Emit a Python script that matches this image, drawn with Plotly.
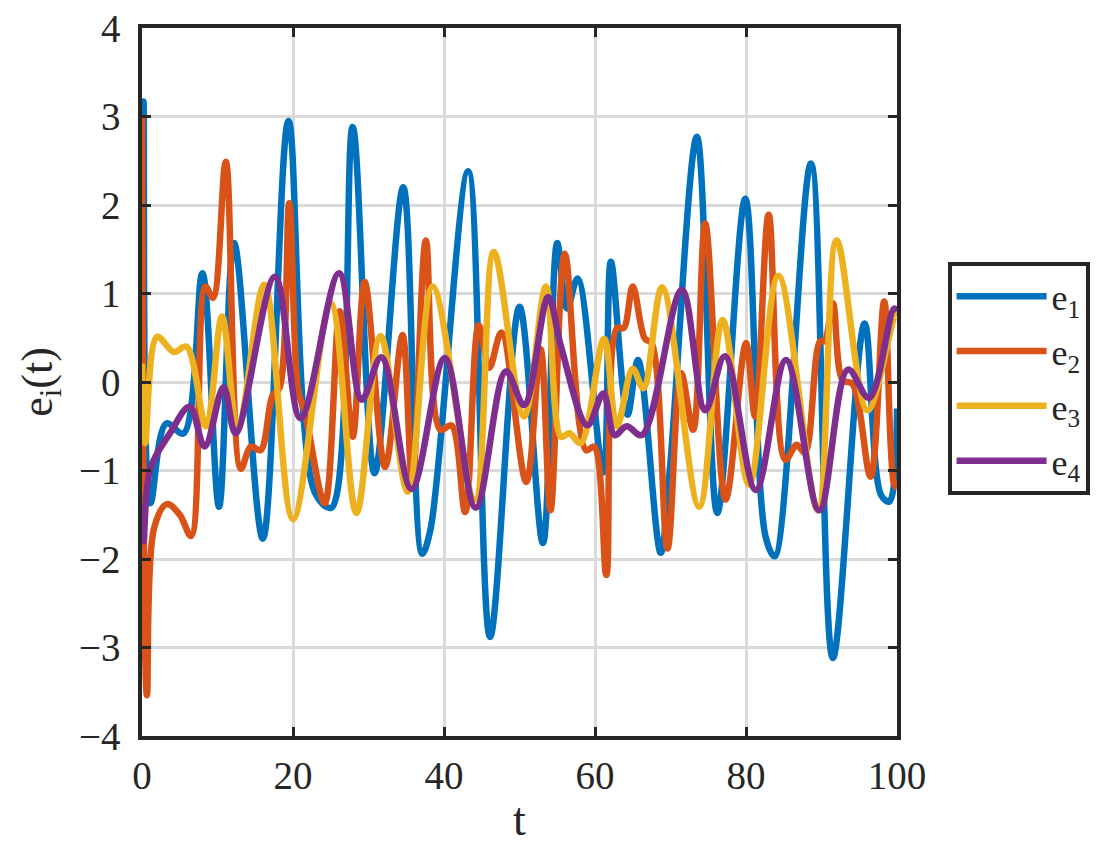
import plotly.graph_objects as go

# ---- data (key points of each curve) ----
t1 = [0, 0.2, 1.1, 3.2, 5.5, 8.0, 10.2, 12.2, 16.0, 19.4, 22.9, 25.1, 27.9, 30.8, 34.6,
      37.1, 38.2, 43.2, 46.1, 50.0, 53.1, 55.0, 56.3, 57.7, 61.1, 62.1, 64.3, 65.7, 68.7,
      69.9, 73.5, 76.2, 79.9, 82.6, 83.8, 88.6, 91.5, 95.7, 97.9, 99.0, 100]
e1 = [1.6, 3.17, -1.37, -0.47, -0.58, 1.23, -1.41, 1.57, -1.77, 2.95, -1.25, -1.42, 2.88,
      -1.03, 2.2, -1.94, -1.67, 2.38, -2.88, 0.85, -1.82, 1.57, 0.83, 1.17, -1.02, 1.36,
      -0.37, 0.25, -1.93, -1.0, 2.77, -1.48, 2.07, -1.75, -1.97, 2.47, -3.12, 0.66, -1.28,
      -1.35, -0.3]

t2 = [0, 0.65, 1.6, 3.3, 5.0, 6.5, 8.4, 9.4, 11.1, 13.1, 14.4, 15.7, 17.3, 18.2, 19.5,
      20.7, 21.6, 24.2, 26.2, 27.9, 29.5, 32.2, 34.5, 35.8, 37.6, 39.5, 41.0, 42.8, 44.6,
      46.0, 47.6, 50.9, 52.8, 54.1, 56.0, 58.8, 59.9, 61.5, 62.9, 63.8, 65.0, 66.6, 67.5,
      69.6, 71.4, 73.0, 74.6, 77.3, 80.0, 81.2, 83.0, 85.2, 86.7, 87.8, 89.8, 90.4, 91.5,
      92.8, 94.1, 96.5, 98.3, 99.6, 100]
e2 = [3.0, -3.54, -1.65, -1.38, -1.5, -1.74, 1.08, 0.95, 2.49, -0.98, -0.73, -0.77, -0.15,
      -0.07, 2.02, -0.1, -0.35, -1.37, 0.8, -0.62, 1.13, -0.96, 0.53, -1.14, 1.6, -0.54,
      -0.49, -1.47, 0.64, 0.16, 0.56, -1.13, 0.37, -1.45, 1.45, -0.77, -0.73, -2.18, 0.61,
      0.61, 1.08, 0.49, 0.44, -1.88, 0.1, -0.54, 1.79, -1.33, 0.44, -0.39, 1.89, -0.88,
      -0.71, -0.8, 0.46, 0.46, 0.89, 0.02, -0.02, -1.07, 0.91, -1.15, -1.2]

t3 = [0, 0.4, 2.0, 4.2, 5.9, 8.5, 10.6, 12.7, 16.2, 20.0, 25.0, 28.4, 31.6, 35.2, 38.5,
      44.1, 46.6, 50.6, 53.5, 55.5, 56.6, 58.1, 61.2, 62.9, 65.0, 66.4, 68.9, 73.8, 76.9,
      80.4, 84.3, 89.5, 92.0, 96.1, 99.8, 100]
e3 = [0.21, -0.69, 0.51, 0.34, 0.4, -0.5, 0.74, -0.54, 1.1, -1.55, 0.89, -1.48, 0.52,
      -1.24, 1.08, -1.33, 1.47, -0.39, 1.08, -0.62, -0.58, -0.69, 0.49, -0.5, 0.15, -0.07,
      1.07, -1.41, 0.7, -1.16, 1.2, -1.45, 1.6, -0.32, 0.76, 0.74]

t4 = [0, 0.2, 1.1, 3.7, 6.3, 8.3, 10.8, 12.4, 17.6, 21.0, 26.1, 29.1, 31.7, 35.7, 40.1,
      44.2, 48.2, 50.6, 53.8, 55.5, 59.0, 61.1, 62.6, 64.2, 66.2, 71.5, 74.6, 77.2, 81.3,
      85.3, 89.7, 93.5, 96.3, 99.6, 100]
e4 = [-1.4, -1.8, -0.98, -0.58, -0.28, -0.73, -0.06, -0.58, 1.19, -0.41, 1.23, -0.2, 0.28,
      -1.21, 0.27, -1.42, 0.12, -0.26, 0.96, 0.4, -0.49, -0.13, -0.6, -0.5, -0.6, 1.04,
      -0.32, 0.29, -1.22, 0.25, -1.45, 0.14, -0.18, 0.83, 0.8]

series_names = ["e<sub>1</sub>", "e<sub>2</sub>", "e<sub>3</sub>", "e<sub>4</sub>"]
series_t = [t1, t2, t3, t4]
series_v = [e1, e2, e3, e4]
colors = ["#0072BD", "#D95319", "#EDB120", "#7E2F8E"]

x_ticks = [0, 20, 40, 60, 80, 100]
y_ticks = [-4, -3, -2, -1, 0, 1, 2, 3, 4]

FONT = "Liberation Serif"
AX = "#262626"

fig = go.Figure()
for name, tt, vv, c in zip(series_names, series_t, series_v, colors):
    fig.add_trace(go.Scatter(
        x=tt, y=vv, mode="lines", name=name, legendgroup=name,
        line=dict(color=c, width=6.5, shape="spline", smoothing=1.0),
    ))

axis_common = dict(
    showline=True, linecolor=AX, linewidth=3.5, mirror="ticks",
    ticks="inside", ticklen=9, tickwidth=3, tickcolor=AX,
    showgrid=True, gridcolor="#dadada", gridwidth=3,
    zeroline=False, tickfont=dict(family=FONT, size=39, color=AX),
    ticklabeloverflow="allow", automargin=False,
)

fig.update_layout(
    width=1094, height=837,
    margin=dict(l=134, r=197, t=20, b=109),
    paper_bgcolor="white", plot_bgcolor="white",
    font=dict(family=FONT, color=AX),
    xaxis=dict(range=[0, 100], tickvals=x_ticks, ticklabelstandoff=2,
               title=dict(text="t", font=dict(family=FONT, size=46, color=AX), standoff=20),
               **axis_common),
    yaxis=dict(range=[-4, 4], tickvals=y_ticks, ticklabelstandoff=10,
               title=dict(text="e<sub>i</sub>(t)", font=dict(family=FONT, size=44, color=AX), standoff=14),
               **axis_common),
    legend=dict(x=1.067, y=0.669, xanchor="left", yanchor="top",
                bordercolor=AX, borderwidth=4, bgcolor="white",
                font=dict(family=FONT, size=36, color=AX),
                tracegroupgap=5, itemwidth=90),
    showlegend=True,
)

fig.write_html("out.html")
